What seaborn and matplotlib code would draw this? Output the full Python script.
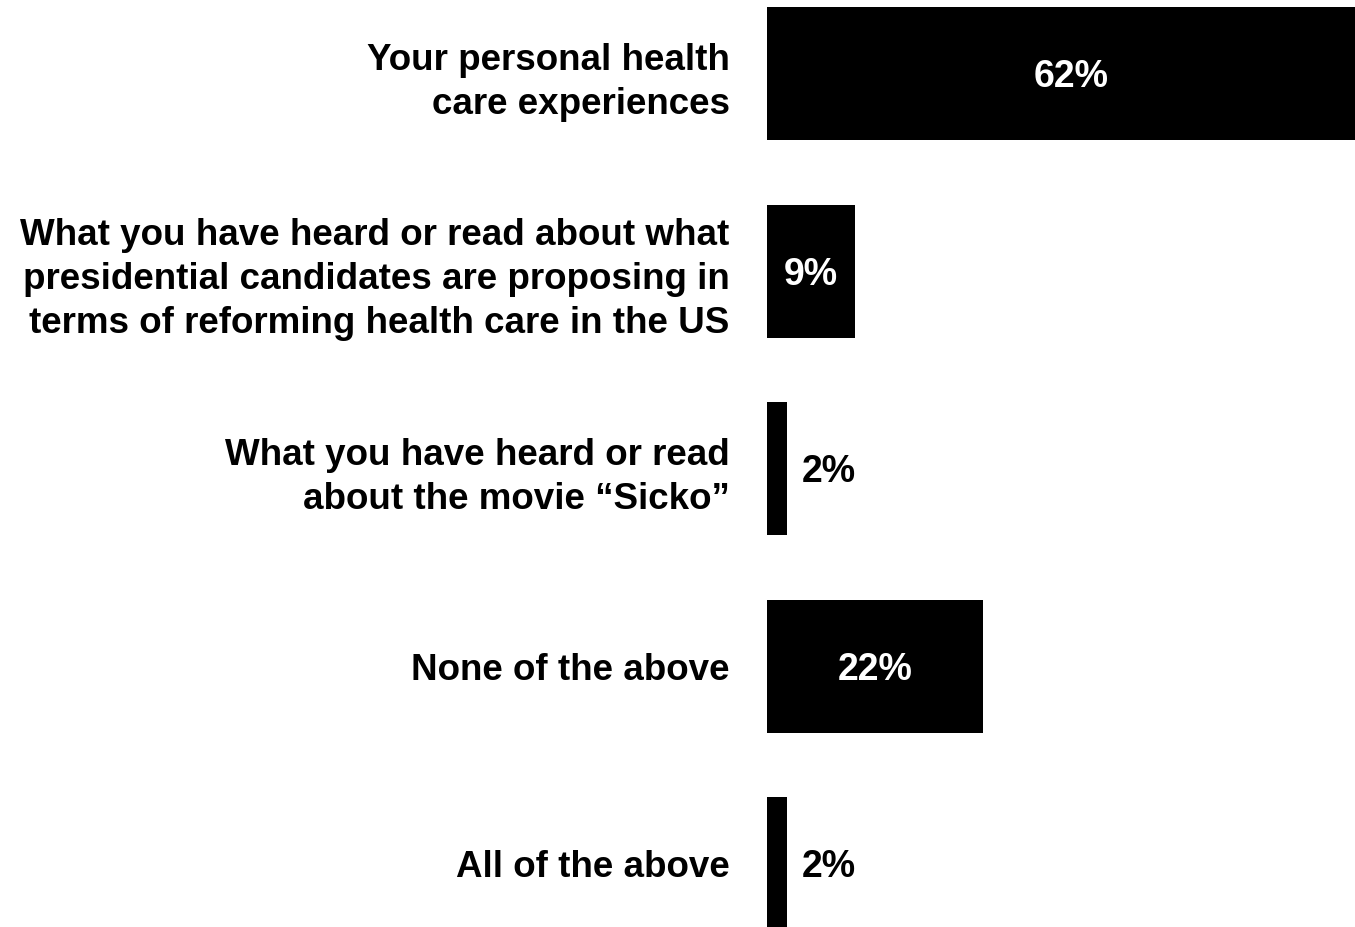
import matplotlib
matplotlib.use("Agg")
import matplotlib.pyplot as plt
import seaborn as sns
import pandas as pd

categories = [
    "Your personal health\ncare experiences",
    "What you have heard or read about what\npresidential candidates are proposing in\nterms of reforming health care in the US",
    "What you have heard or read\nabout the movie \u201cSicko\u201d",
    "None of the above",
    "All of the above",
]
values = [62, 9, 2, 22, 2]
value_labels = ["62%", "9%", "2%", "22%", "2%"]

df = pd.DataFrame({"source": categories, "pct": values})

sns.set_theme(style="white")
plt.rcParams["font.family"] = ["Liberation Sans", "DejaVu Sans"]

fig = plt.figure(figsize=(13.55, 9.27), dpi=100)
ax = fig.add_axes([767 / 1355, 0.0, 1 - 767 / 1355, 1.0])

sns.barplot(data=df, x="pct", y="source", orient="h", color="black",
            width=0.673, saturation=1, ax=ax, linewidth=0)

ax.set_xlim(0, 60)
ax.set_ylim(4.319, -0.372)

# value labels: white inside wide bars, black beside narrow ones
for i, (v, lab) in enumerate(zip(values, value_labels)):
    inside = v >= 5
    ax.annotate(lab, xy=(v / 2 if inside else v + 1.5, i),
                xytext=(0, -9.7), textcoords="offset points",
                ha="center" if inside else "left", va="baseline",
                color="white" if inside else "black",
                fontsize=27, fontweight="bold")

ax.set_xlabel("")
ax.set_ylabel("")
ax.set_xticks([])
ax.tick_params(axis="y", length=0, pad=27, labelcolor="black")
for t in ax.get_yticklabels():
    t.set_fontsize(26.5)
    t.set_fontweight("bold")
    t.set_linespacing(1.34)
    t.set_multialignment("right")
for s in ax.spines.values():
    s.set_visible(False)

fig.savefig("out.png", dpi=100)
